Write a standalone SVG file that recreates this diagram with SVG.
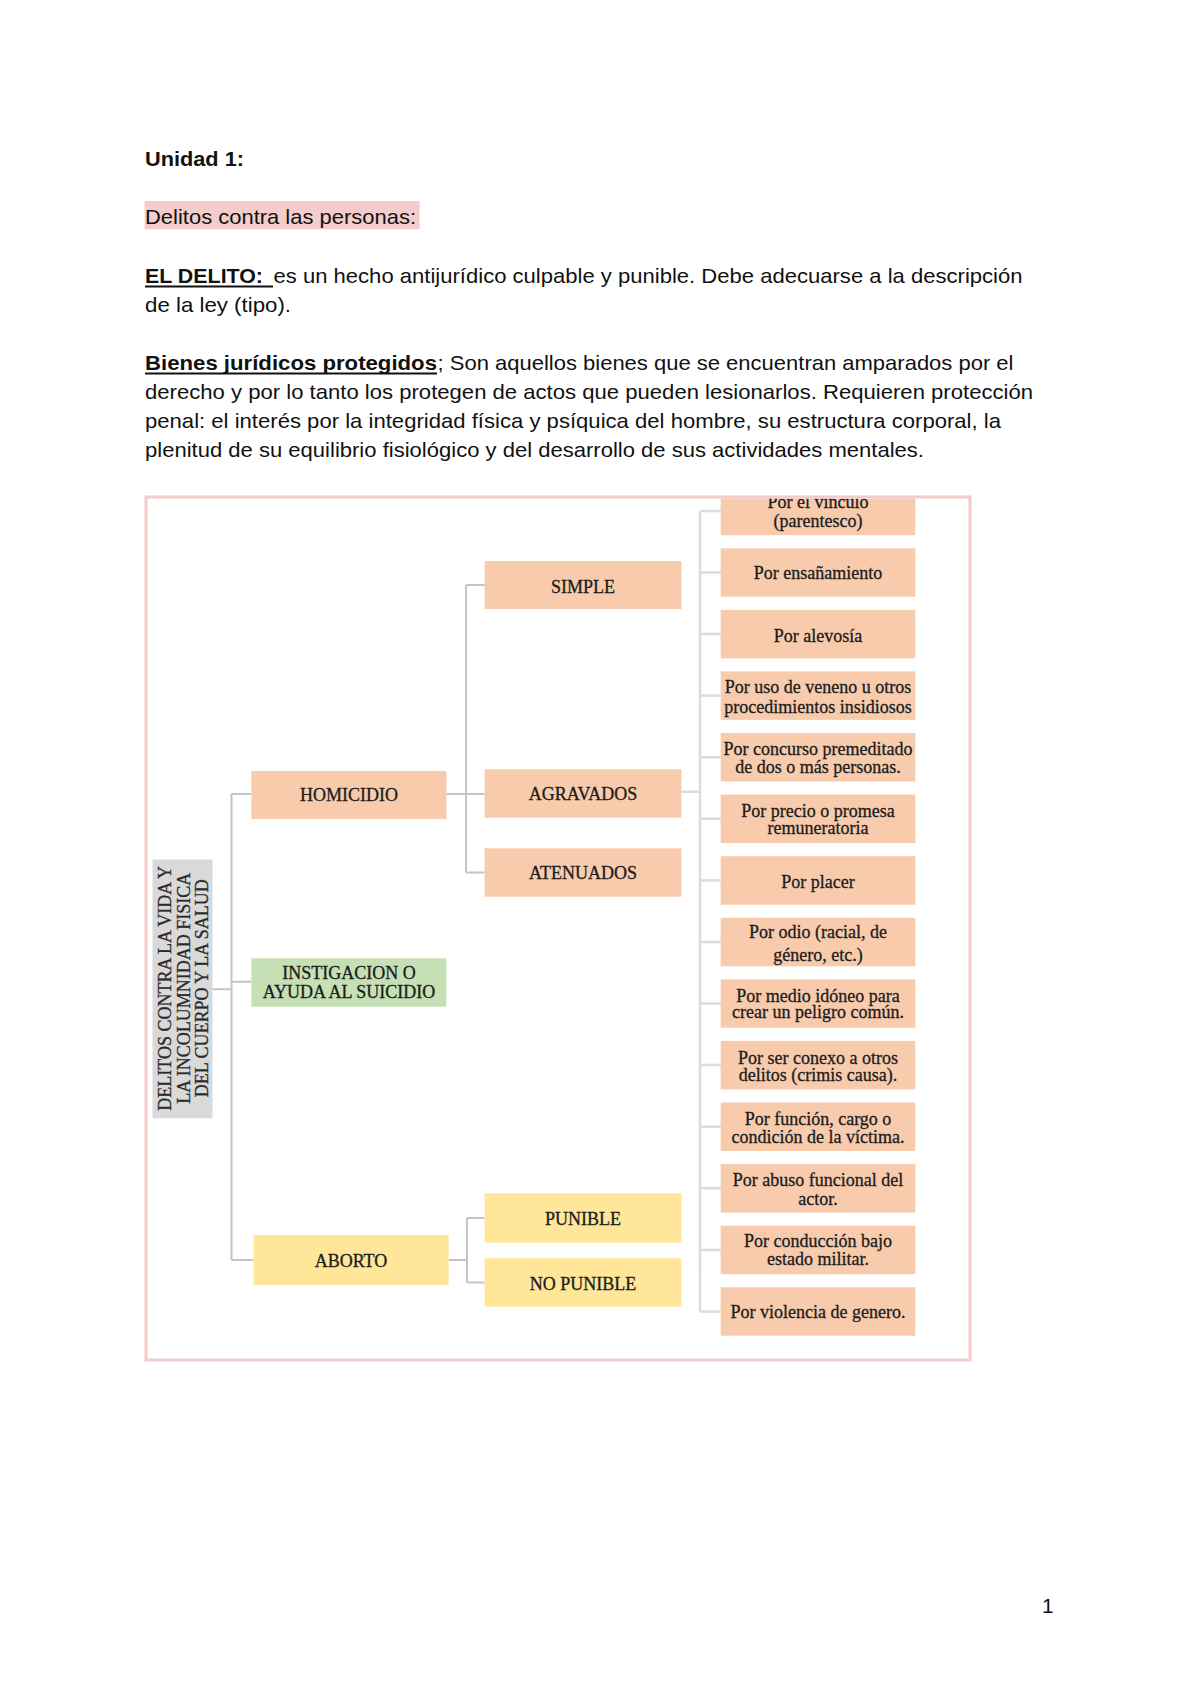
<svg xmlns="http://www.w3.org/2000/svg" width="1200" height="1694" viewBox="0 0 1200 1694">
<defs>
<style>
.body{font-family:"Liberation Sans",Arial,sans-serif;font-size:21px;fill:#111;}
.b{font-weight:bold;}
.nt{font-family:"Liberation Serif","Times New Roman",serif;font-size:18px;fill:#1c1c1c;stroke:#1c1c1c;stroke-width:0.3;text-anchor:middle;}
.peach{fill:#f8cbad;}
.green{fill:#c5e0b4;}
.yellow{fill:#ffe699;}
.gray{fill:#d9d9d9;}
.con{fill:none;stroke:#c4c4c4;stroke-width:2;}
.con2{fill:none;stroke:#dcdcdc;stroke-width:2.5;}
</style>
<clipPath id="frameclip"><rect x="147.5" y="498.5" width="821" height="860"/></clipPath>
</defs>
<rect x="0" y="0" width="1200" height="1694" fill="#ffffff"/>

<g id="header">
<text class="body b" x="145" y="165.5" textLength="99" lengthAdjust="spacingAndGlyphs">Unidad 1:</text>
<rect x="144.6" y="201" width="275" height="28.3" fill="#f4cccc"/>
<text class="body" x="145" y="224" textLength="271" lengthAdjust="spacingAndGlyphs">Delitos contra las personas:</text>
<text class="body b" x="145" y="283.3" textLength="118" lengthAdjust="spacingAndGlyphs">EL DELITO:</text>
<line x1="145" y1="286.5" x2="273" y2="286.5" stroke="#111" stroke-width="2"/>
<text class="body" x="273.5" y="283.3" textLength="749" lengthAdjust="spacingAndGlyphs">es un hecho antijurídico culpable y punible. Debe adecuarse a la descripción</text>
<text class="body" x="145" y="311.7" textLength="146" lengthAdjust="spacingAndGlyphs">de la ley (tipo).</text>
<text class="body b" x="145" y="370" textLength="292" lengthAdjust="spacingAndGlyphs">Bienes jurídicos protegidos</text>
<line x1="145" y1="373.5" x2="437" y2="373.5" stroke="#111" stroke-width="2"/>
<text class="body" x="437.5" y="370" textLength="576" lengthAdjust="spacingAndGlyphs">; Son aquellos bienes que se encuentran amparados por el</text>
<text class="body" x="145" y="399" textLength="888" lengthAdjust="spacingAndGlyphs">derecho y por lo tanto los protegen de actos que pueden lesionarlos. Requieren protección</text>
<text class="body" x="145" y="428" textLength="856" lengthAdjust="spacingAndGlyphs">penal: el interés por la integridad física y psíquica del hombre, su estructura corporal, la</text>
<text class="body" x="145" y="457" textLength="779" lengthAdjust="spacingAndGlyphs">plenitud de su equilibrio fisiológico y del desarrollo de sus actividades mentales.</text>
</g>

<g id="diagram" clip-path="url(#frameclip)">
<g id="connectors">
<path class="con" d="M212.5 989.3 H231.5 M231.5 794 V1260 M231.5 794 H251.4 M231.5 981.7 H251.4 M231.5 1260 H253.6"/>
<path class="con" d="M446.4 794 H484.6 M466 585 V872.5 M466 585 H484.6 M466 872.5 H484.6"/>
<path class="con" d="M448.6 1260 H467 M467 1218 V1282.5 M467 1218 H484.6 M467 1282.5 H484.6"/>
<path class="con2" d="M681.4 791.7 H700 M700 510.9 V1311.5 M700 510.9 H720.7 M700 572.5 H720.7 M700 634.1 H720.7 M700 695.6 H720.7 M700 757.2 H720.7 M700 818.8 H720.7 M700 880.4 H720.7 M700 942 H720.7 M700 1003.5 H720.7 M700 1065.1 H720.7 M700 1126.7 H720.7 M700 1188.3 H720.7 M700 1249.9 H720.7 M700 1311.5 H720.7"/>
</g>

<g id="root">
<rect class="gray" x="152.5" y="859.5" width="60" height="258.8"/>
<text class="nt" style="fill:#2a2a2a;stroke:#2a2a2a" transform="translate(171,988.3) rotate(-90)">DELITOS CONTRA LA VIDA Y</text>
<text class="nt" style="fill:#2a2a2a;stroke:#2a2a2a" transform="translate(189.5,988.3) rotate(-90)">LA INCOLUMNIDAD FISICA</text>
<text class="nt" style="fill:#2a2a2a;stroke:#2a2a2a" transform="translate(208,988.3) rotate(-90)">DEL CUERPO Y LA SALUD</text>
</g>

<g id="homicidio"><rect class="peach" x="251.4" y="771" width="195" height="48"/><text class="nt" x="349" y="800.5">HOMICIDIO</text></g>
<g id="instigacion"><rect class="green" x="251.4" y="958.3" width="195" height="48.4"/><text class="nt" x="349" y="979.3">INSTIGACION O</text><text class="nt" x="349" y="998.3">AYUDA AL SUICIDIO</text></g>
<g id="aborto"><rect class="yellow" x="253.6" y="1235" width="195" height="50"/><text class="nt" x="351" y="1266.7">ABORTO</text></g>

<g id="simple"><rect class="peach" x="484.6" y="561" width="196.8" height="48"/><text class="nt" x="583" y="592.5">SIMPLE</text></g>
<g id="agravados"><rect class="peach" x="484.6" y="769.3" width="196.8" height="48.4"/><text class="nt" x="583" y="800">AGRAVADOS</text></g>
<g id="atenuados"><rect class="peach" x="484.6" y="848.3" width="196.8" height="48.4"/><text class="nt" x="583" y="879.3">ATENUADOS</text></g>
<g id="punible"><rect class="yellow" x="484.6" y="1193.3" width="196.8" height="49.4"/><text class="nt" x="583" y="1225">PUNIBLE</text></g>
<g id="no-punible"><rect class="yellow" x="484.6" y="1258.3" width="196.8" height="48.4"/><text class="nt" x="583" y="1290">NO PUNIBLE</text></g>

<g id="vinculo"><rect class="peach" x="720.7" y="486.7" width="194.6" height="48.5"/><text class="nt" x="818" y="508.3">Por el vinculo</text><text class="nt" x="818" y="527.3">(parentesco)</text></g>
<g id="ensanamiento"><rect class="peach" x="720.7" y="548.3" width="194.6" height="48.5"/><text class="nt" x="818" y="579.3">Por ensañamiento</text></g>
<g id="alevosia"><rect class="peach" x="720.7" y="609.9" width="194.6" height="48.5"/><text class="nt" x="818" y="641.7">Por alevosía</text></g>
<g id="veneno"><rect class="peach" x="720.7" y="671.4" width="194.6" height="48.5"/><text class="nt" x="818" y="692.7">Por uso de veneno u otros</text><text class="nt" x="818" y="712.7">procedimientos insidiosos</text></g>
<g id="concurso"><rect class="peach" x="720.7" y="733" width="194.6" height="48.5"/><text class="nt" x="818" y="755">Por concurso premeditado</text><text class="nt" x="818" y="773.3">de dos o más personas.</text></g>
<g id="precio"><rect class="peach" x="720.7" y="794.6" width="194.6" height="48.5"/><text class="nt" x="818" y="816.7">Por precio o promesa</text><text class="nt" x="818" y="834">remuneratoria</text></g>
<g id="placer"><rect class="peach" x="720.7" y="856.2" width="194.6" height="48.5"/><text class="nt" x="818" y="888.3">Por placer</text></g>
<g id="odio"><rect class="peach" x="720.7" y="917.8" width="194.6" height="48.5"/><text class="nt" x="818" y="938">Por odio (racial, de</text><text class="nt" x="818" y="960.5">género, etc.)</text></g>
<g id="medio"><rect class="peach" x="720.7" y="979.3" width="194.6" height="48.5"/><text class="nt" x="818" y="1001.7">Por medio idóneo para</text><text class="nt" x="818" y="1018.3">crear un peligro común.</text></g>
<g id="conexo"><rect class="peach" x="720.7" y="1040.9" width="194.6" height="48.5"/><text class="nt" x="818" y="1064">Por ser conexo a otros</text><text class="nt" x="818" y="1080.7">delitos (crimis causa).</text></g>
<g id="funcion"><rect class="peach" x="720.7" y="1102.5" width="194.6" height="48.5"/><text class="nt" x="818" y="1125">Por función, cargo o</text><text class="nt" x="818" y="1143.3">condición de la víctima.</text></g>
<g id="abuso"><rect class="peach" x="720.7" y="1164.1" width="194.6" height="48.5"/><text class="nt" x="818" y="1186">Por abuso funcional del</text><text class="nt" x="818" y="1205">actor.</text></g>
<g id="conduccion"><rect class="peach" x="720.7" y="1225.7" width="194.6" height="48.5"/><text class="nt" x="818" y="1247.3">Por conducción bajo</text><text class="nt" x="818" y="1265">estado militar.</text></g>
<g id="violencia"><rect class="peach" x="720.7" y="1287.2" width="194.6" height="48.5"/><text class="nt" x="818" y="1318.3">Por violencia de genero.</text></g>
</g>

<rect id="frame" x="146" y="497" width="824" height="863" fill="none" stroke="#f4caca" stroke-width="3"/>

<text class="body" x="1042" y="1613">1</text>
</svg>
